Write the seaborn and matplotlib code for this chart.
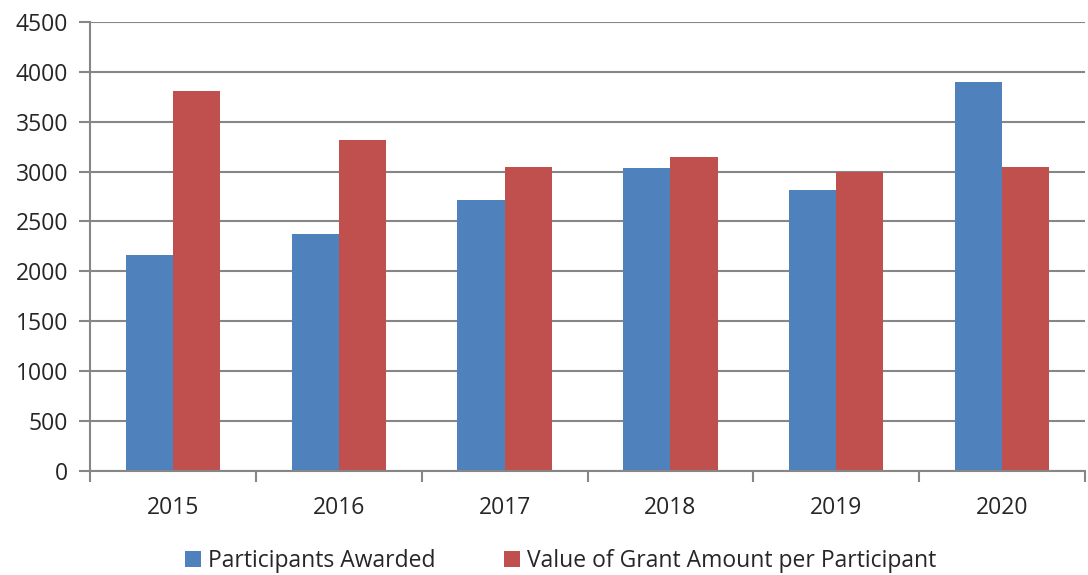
import numpy as np
import pandas as pd
import matplotlib
matplotlib.use("Agg")
import matplotlib.pyplot as plt
import seaborn as sns

years = ["2015", "2016", "2017", "2018", "2019", "2020"]
participants = [2160, 2370, 2710, 3040, 2815, 3900]
grant_value = [3810, 3320, 3050, 3145, 3000, 3050]
series_names = ["Participants Awarded", "Value of Grant Amount per Participant"]
colors = ["#4F81BD", "#C0504D"]

df = pd.DataFrame({
    "year": years * 2,
    "value": participants + grant_value,
    "series": [series_names[0]] * len(years) + [series_names[1]] * len(years),
})

sns.set_style("white")
plt.rcParams["font.family"] = ["Open Sans", "DejaVu Sans"]

fig = plt.figure(figsize=(10.88, 5.75), dpi=100)
ax = fig.add_axes([0.083, 0.181, 0.914, 0.781])

sns.barplot(data=df, x="year", y="value", hue="series", palette=colors,
            saturation=1, width=0.57, edgecolor="none", ax=ax, legend=True)

grid_c = "#868686"
ax.set_ylim(0, 4500)
ax.set_yticks(np.arange(0, 4501, 500))
ax.set_xlim(-0.5, len(years) - 0.5)
ax.yaxis.grid(True, color=grid_c, linewidth=1.5)
ax.set_axisbelow(True)
for s in ["top", "right"]:
    ax.spines[s].set_visible(False)
for s in ["left", "bottom"]:
    ax.spines[s].set_color(grid_c)
    ax.spines[s].set_linewidth(1.5)

ax.set_xlabel("")
ax.set_ylabel("")
ax.tick_params(axis="y", which="major", length=8, width=1.5, color=grid_c,
               labelsize=16.5, pad=8, left=True)
ax.tick_params(axis="x", which="major", length=0, labelsize=16.5, pad=18)
ax.set_xticks(np.arange(-0.5, len(years), 1), minor=True)
ax.tick_params(axis="x", which="minor", length=8, width=1.5, color=grid_c,
               bottom=True)

handles, labels = ax.get_legend_handles_labels()
ax.get_legend().remove()
fig.legend(handles, labels, loc="center", bbox_to_anchor=(0.515, 0.025),
           ncol=2, frameon=False, fontsize=16.5, handlelength=0.7,
           handleheight=0.7, handletextpad=0.3, columnspacing=3.0)

fig.savefig("out.png", dpi=100)
